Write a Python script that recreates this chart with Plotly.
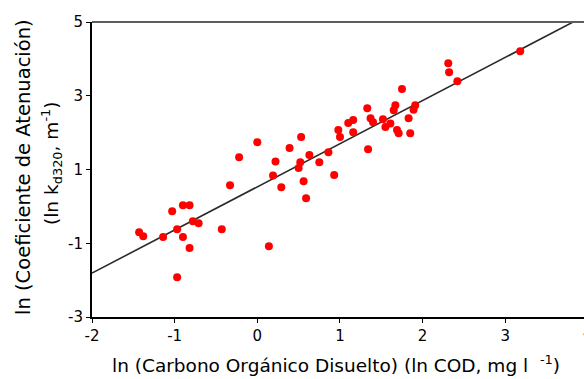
import plotly.graph_objects as go

# Data (ln COD, ln kd320)
ln_cod = [3.18, 2.31, 2.32, 2.42, 1.75, 1.91, 1.83, 1.85, 1.67, 1.65, 1.69, 1.61,
          1.52, 1.55, 1.33, 1.37, 1.40, 1.16, 1.10, 1.16, 0.98, 1.00, 1.34, 0.86,
          0.93, 0.75, 0.63, 0.52, 0.50, 0.53, 0.39, 0.22, 0.19, 0.00, -0.22, 0.56,
          0.29, 0.59, -0.33, -0.90, -0.82, -1.03, -0.78, -0.71, -0.97, -0.43, -1.43,
          -1.38, -1.14, -0.90, -0.82, -0.97, 0.14, 1.71, 1.89]
ln_kd = [4.21, 3.88, 3.64, 3.39, 3.18, 2.74, 2.39, 1.98, 2.74, 2.61, 2.07, 2.25,
         2.36, 2.15, 2.66, 2.39, 2.28, 2.34, 2.26, 2.01, 2.07, 1.88, 1.55, 1.47,
         0.85, 1.20, 1.39, 1.20, 1.04, 1.88, 1.58, 1.22, 0.84, 1.74, 1.33, 0.68,
         0.52, 0.22, 0.57, 0.03, 0.03, -0.13, -0.40, -0.46, -0.62, -0.62, -0.70,
         -0.81, -0.83, -0.83, -1.13, -1.92, -1.08, 1.98, 2.62]

fit_slope = 1.17
fit_intercept = 0.53
fit_x = [-2.0, 4.0]

x_ticks = [-2, -1, 0, 1, 2, 3]
y_ticks = [-3, -1, 1, 3, 5]

FONT = "DejaVu Sans"

fig = go.Figure()
fig.add_trace(go.Scatter(
    x=fit_x, y=[fit_intercept + fit_slope * v for v in fit_x],
    mode="lines", line=dict(color="#2a2a2a", width=1.6),
    hoverinfo="skip", showlegend=False))
fig.add_trace(go.Scatter(
    x=ln_cod, y=ln_kd, mode="markers",
    marker=dict(color="#ff0000", size=8, line=dict(width=0)),
    showlegend=False))

W, H = 584, 379
L, T, B = 92, 22, 62
x_per_unit = 82.66
x_max = -2 + (W - L) / x_per_unit

fig.update_layout(
    width=W, height=H,
    margin=dict(l=L, r=0, t=T, b=B),
    paper_bgcolor="white", plot_bgcolor="white",
    font=dict(family=FONT, size=15, color="black"),
    xaxis=dict(range=[-2, x_max], tickvals=x_ticks, ticktext=[str(v) for v in x_ticks],
               showgrid=False, zeroline=False, showline=True, linecolor="black",
               linewidth=2, ticks="outside", ticklen=4, tickcolor="black",
               tickfont=dict(family=FONT, size=15)),
    yaxis=dict(range=[-3, 5], tickvals=y_ticks, ticktext=[str(v) for v in y_ticks],
               showgrid=False, zeroline=False, showline=True, linecolor="black",
               linewidth=2, ticks="outside", ticklen=4, tickcolor="black",
               tickfont=dict(family=FONT, size=15)),
    shapes=[dict(type="line", xref="paper", yref="paper", x0=0, x1=1, y0=1, y1=1,
                 line=dict(color="#5c5c5c", width=2))],
    annotations=[
        dict(text="ln (Carbono Orgánico Disuelto) (ln COD, mg l  <sup>-1</sup>)",
             xref="paper", yref="paper", x=(336 - L) / (W - L), y=-(364 - (H - B)) / (H - T - B),
             xanchor="center", yanchor="middle", showarrow=False,
             font=dict(family=FONT, size=18.5)),
        dict(text="ln (Coeficiente de Atenuación)",
             xref="paper", yref="paper", x=-(L - 23) / (W - L), y=1 - (167 - T) / (H - T - B),
             xanchor="center", yanchor="middle", textangle=-90, showarrow=False,
             font=dict(family=FONT, size=19.5)),
        dict(text="(ln k<sub>d320</sub>, m<sup>-1</sup>)",
             xref="paper", yref="paper", x=-(L - 51) / (W - L), y=1 - (163 - T) / (H - T - B),
             xanchor="center", yanchor="middle", textangle=-90, showarrow=False,
             font=dict(family=FONT, size=18.5)),
        dict(text="4", xref="paper", yref="paper", x=(588 - L) / (W - L),
             y=-(333 - (H - B)) / (H - T - B), xanchor="center", yanchor="middle",
             showarrow=False, font=dict(family=FONT, size=15)),
    ],
)

fig.write_html("out.html")
